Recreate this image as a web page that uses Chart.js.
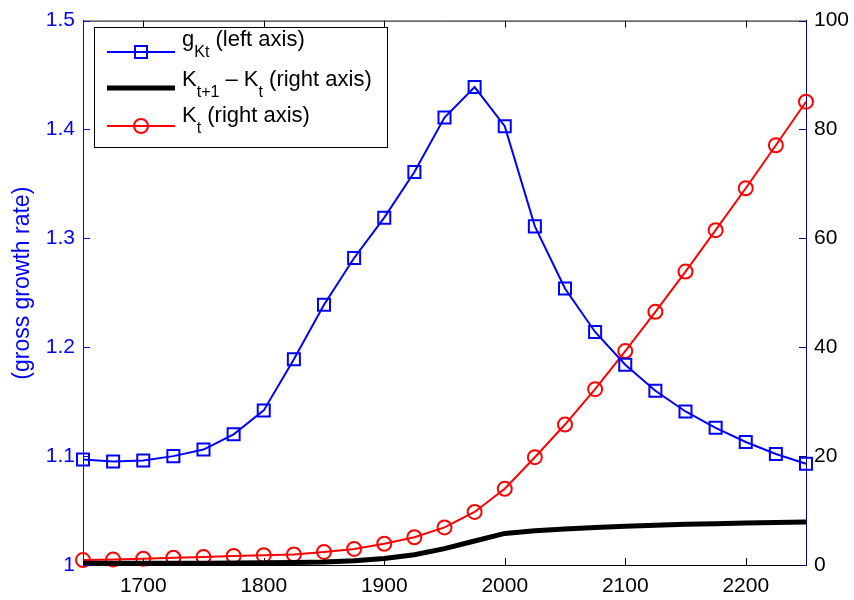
<!DOCTYPE html>
<html>
<head>
<meta charset="utf-8">
<script src="https://cdn.jsdelivr.net/npm/chart.js@4/dist/chart.umd.min.js"></script>
<style>
  body { margin: 0; background: #fff; }
  #wrap { position: relative; width: 854px; height: 600px; font-family: "Liberation Sans", Arial, sans-serif; }
  #chart { position: absolute; left: 0; top: 0; }
  #legend {
    position: absolute; left: 94px; top: 27px; width: 294px; height: 121px;
    box-sizing: border-box; border: 1.5px solid #000; background: #fff;
  }
  #legend svg { position: absolute; left: 12px; }
  #legend .lbl {
    position: absolute; left: 87px; font-size: 22px; line-height: 22px;
    white-space: nowrap; color: #000;
  }
  #legend sub { font-size: 16px; line-height: 0; vertical-align: -11px; }
</style>
</head>
<body>
<div id="wrap">
  <canvas id="chart" width="854" height="600"></canvas>
  <div id="legend">
    <svg width="68" height="20" style="top:14px">
      <line x1="0" y1="10" x2="68" y2="10" stroke="#0000ff" stroke-width="2"/>
      <rect x="28" y="4" width="12" height="12" fill="none" stroke="#0000ff" stroke-width="2"/>
    </svg>
    <div class="lbl" style="top:0px">g<sub>Kt</sub> (left axis)</div>

    <svg width="68" height="20" style="top:50px">
      <line x1="0" y1="10" x2="68" y2="10" stroke="#000" stroke-width="5"/>
    </svg>
    <div class="lbl" style="top:40px">K<sub>t+1</sub> &ndash; K<sub>t</sub> (right axis)</div>

    <svg width="68" height="20" style="top:88px">
      <line x1="0" y1="10" x2="68" y2="10" stroke="#ff0000" stroke-width="2"/>
      <circle cx="34" cy="10" r="7" fill="none" stroke="#ff0000" stroke-width="2"/>
    </svg>
    <div class="lbl" style="top:76px">K<sub>t</sub> (right axis)</div>
  </div>
</div>
<script>
// Jahre (alle 25 Jahre)
const years = [1650, 1675, 1700, 1725, 1750, 1775, 1800, 1825, 1850, 1875, 1900, 1925, 1950,
               1975, 2000, 2025, 2050, 2075, 2100, 2125, 2150, 2175, 2200, 2225, 2250];

// g_Kt (linke Achse)
const gKt = [1.097, 1.095, 1.096, 1.100, 1.106, 1.120, 1.142, 1.189, 1.239, 1.282, 1.319, 1.361, 1.411,
             1.439, 1.403, 1.311, 1.254, 1.214, 1.184, 1.160, 1.141, 1.126, 1.113, 1.102, 1.093];

// K_{t+1} - K_t (rechte Achse)
const dK = [0.3, 0.3, 0.3, 0.3, 0.3, 0.35, 0.4, 0.45, 0.55, 0.8, 1.2, 1.9, 3.0,
            4.4, 5.8, 6.3, 6.6, 6.9, 7.1, 7.3, 7.5, 7.6, 7.7, 7.8, 7.9];

// K_t (rechte Achse)
const Kt = [0.9, 1.0, 1.15, 1.35, 1.45, 1.65, 1.8, 1.95, 2.4, 2.95, 3.9, 5.1, 6.9,
            9.75, 14.0, 19.8, 25.8, 32.3, 39.3, 46.5, 53.9, 61.5, 69.2, 77.1, 85.1];

// Achsen-Ticks
const xTicks = [1700, 1800, 1900, 2000, 2100, 2200];
const leftTicks = [1, 1.1, 1.2, 1.3, 1.4, 1.5];
const rightTicks = [0, 20, 40, 60, 80, 100];

const toPoints = arr => years.map((x, i) => ({ x: x, y: arr[i] }));

// Ticks nach innen zeichnen (MATLAB-Stil) + obere Rahmenlinie
const innerTicks = {
    id: 'innerTicks',
    afterDraw(chart) {
        const ctx = chart.ctx;
        const a = chart.chartArea;
        const len = 7;
        ctx.save();
        ctx.lineWidth = 1;

        ctx.strokeStyle = '#000';
        ctx.beginPath();
        ctx.moveTo(a.left, a.top + 0.5);
        ctx.lineTo(a.right, a.top + 0.5);
        xTicks.forEach(v => {
            const px = Math.round(chart.scales.x.getPixelForValue(v)) + 0.5;
            ctx.moveTo(px, a.bottom);
            ctx.lineTo(px, a.bottom - len);
            ctx.moveTo(px, a.top);
            ctx.lineTo(px, a.top + len);
        });
        ctx.stroke();

        ctx.strokeStyle = '#0000ff';
        ctx.beginPath();
        leftTicks.forEach(v => {
            const py = Math.round(chart.scales.yL.getPixelForValue(v)) + 0.5;
            ctx.moveTo(a.left, py);
            ctx.lineTo(a.left + len, py);
        });
        ctx.stroke();

        ctx.strokeStyle = '#000080';
        ctx.beginPath();
        rightTicks.forEach(v => {
            const py = Math.round(chart.scales.yR.getPixelForValue(v)) + 0.5;
            ctx.moveTo(a.right, py);
            ctx.lineTo(a.right - len, py);
        });
        ctx.stroke();
        ctx.restore();
    }
};

const tickFont = { family: '"Liberation Sans", Arial, sans-serif', size: 21 };

new Chart(document.getElementById('chart'), {
    type: 'line',
    data: {
        datasets: [
            {
                label: 'gKt (left axis)',
                data: toPoints(gKt),
                yAxisID: 'yL',
                borderColor: '#0000ff',
                borderWidth: 2,
                pointStyle: 'rect',
                pointRadius: 8.5,
                pointBorderWidth: 2,
                pointBorderColor: '#0000ff',
                pointBackgroundColor: 'rgba(0,0,0,0)',
                tension: 0,
                clip: false
            },
            {
                label: 'Kt+1 - Kt (right axis)',
                data: toPoints(dK),
                yAxisID: 'yR',
                borderColor: '#000',
                borderWidth: 5,
                pointRadius: 0,
                tension: 0,
                clip: false
            },
            {
                label: 'Kt (right axis)',
                data: toPoints(Kt),
                yAxisID: 'yR',
                borderColor: '#ff0000',
                borderWidth: 2,
                pointStyle: 'circle',
                pointRadius: 7,
                pointBorderWidth: 2,
                pointBorderColor: '#ff0000',
                pointBackgroundColor: 'rgba(0,0,0,0)',
                tension: 0,
                clip: false
            }
        ]
    },
    options: {
        responsive: false,
        animation: false,
        events: [],
        layout: { padding: { top: 18, left: 0, right: 0, bottom: 0 } },
        plugins: {
            legend: { display: false },
            tooltip: { enabled: false }
        },
        scales: {
            x: {
                type: 'linear',
                min: 1650,
                max: 2250,
                afterBuildTicks: s => { s.ticks = xTicks.map(v => ({ value: v })); },
                afterFit: s => { s.height = 35; },
                grid: { display: false, drawTicks: false },
                border: { color: '#000', width: 1 },
                ticks: { color: '#000', font: tickFont, padding: 9, maxRotation: 0, callback: v => String(v) }
            },
            yL: {
                type: 'linear',
                position: 'left',
                min: 1,
                max: 1.5,
                afterBuildTicks: s => { s.ticks = leftTicks.map(v => ({ value: v })); },
                afterFit: s => { s.width = 83; },
                grid: { display: false, drawTicks: false },
                border: { color: '#0000ff', width: 1 },
                ticks: {
                    color: '#0000ff',
                    font: tickFont,
                    padding: 8,
                    callback: v => String(+v.toFixed(1))
                },
                title: {
                    display: true,
                    text: '\u00a0\u00a0\u00a0(gross growth rate)',
                    color: '#0000ff',
                    font: { family: tickFont.family, size: 23 },
                    padding: { top: 9, bottom: 0 }
                }
            },
            yR: {
                type: 'linear',
                position: 'right',
                min: 0,
                max: 100,
                afterBuildTicks: s => { s.ticks = rightTicks.map(v => ({ value: v })); },
                afterFit: s => { s.width = 48; },
                grid: { display: false, drawTicks: false },
                border: { color: '#000080', width: 1 },
                ticks: { color: '#000', font: tickFont, padding: 8 }
            }
        }
    },
    plugins: [innerTicks]
});
</script>
</body>
</html>
